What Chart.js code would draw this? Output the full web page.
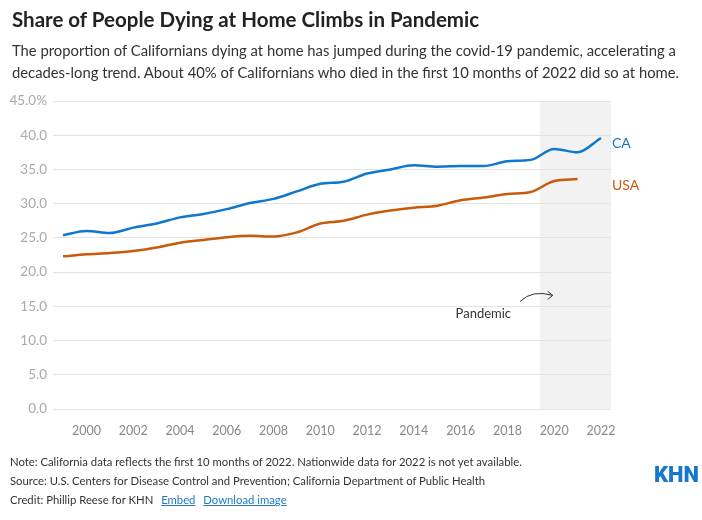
<!DOCTYPE html>
<html lang="en">
<head>
  <meta charset="UTF-8" />
  <title>Share of People Dying at Home Climbs in Pandemic</title>
  <script src="https://cdn.jsdelivr.net/npm/chart.js"></script>
  <style>
    html, body {
      margin: 0;
      padding: 0;
      background: #fff;
      font-family: Lato, "Open Sans", sans-serif;
      color: #333;
    }
    .wrap {
      position: relative;
      width: 702px;
      height: 520px;
      overflow: hidden;
    }
    #chart {
      position: absolute;
      left: 0;
      top: 0;
    }
    h2 {
      position: absolute;
      left: 12px;
      top: 7px;
      margin: 0;
      font-size: 20.5px;
      font-weight: bold;
      color: #222;
      white-space: nowrap;
    }
    .sub {
      position: absolute;
      left: 12px;
      top: 39px;
      margin: 0;
      font-size: 14.8px;
      line-height: 22px;
      color: #333;
      white-space: nowrap;
    }
    .foot {
      position: absolute;
      left: 10px;
      top: 452px;
      font-size: 11.3px;
      line-height: 19px;
      color: #333;
      white-space: nowrap;
    }
    .foot a {
      color: #1f78c8;
      text-decoration: underline;
      margin-left: 5px;
    }
    .logo {
      position: absolute;
      left: 654px;
      top: 462px;
      font-family: Roboto, sans-serif;
      font-weight: 900;
      font-size: 22px;
      color: #1677cc;
    }
  </style>
</head>
<body>
<div class="wrap">
  <canvas id="chart" width="702" height="520"></canvas>
  <h2>Share of People Dying at Home Climbs in Pandemic</h2>
  <p class="sub">The proportion of Californians dying at home has jumped during the covid-19 pandemic, accelerating a<br>decades-long trend. About 40% of Californians who died in the first 10 months of 2022 did so at home.</p>
  <div class="foot">
    Note: California data reflects the first 10 months of 2022. Nationwide data for 2022 is not yet available.<br>
    Source: U.S. Centers for Disease Control and Prevention; California Department of Public Health<br>
    Credit: Phillip Reese for KHN <a>Embed</a> <a>Download image</a>
  </div>
  <div class="logo">KHN</div>
</div>

<script>
  const years = [1999, 2000, 2001, 2002, 2003, 2004, 2005, 2006, 2007, 2008, 2009, 2010,
                 2011, 2012, 2013, 2014, 2015, 2016, 2017, 2018, 2019, 2020, 2021, 2022];
  const caValues = [25.4, 26.0, 25.7, 26.5, 27.1, 28.0, 28.5, 29.2, 30.1, 30.7, 31.8, 32.9,
                    33.2, 34.4, 35.0, 35.6, 35.4, 35.5, 35.5, 36.2, 36.4, 38.0, 37.5, 39.6];
  const usaValues = [22.3, 22.6, 22.8, 23.1, 23.6, 24.3, 24.7, 25.1, 25.3, 25.2, 25.8, 27.1,
                     27.5, 28.4, 29.0, 29.4, 29.7, 30.5, 30.9, 31.4, 31.7, 33.3, 33.6, null];
  const xTicks = [2000, 2002, 2004, 2006, 2008, 2010, 2012, 2014, 2016, 2018, 2020, 2022];
  const yTicks = [0, 5, 10, 15, 20, 25, 30, 35, 40, 45];
  const pandemicStart = 2019.4;

  const toPoints = vals => years.map((y, i) => ({ x: y, y: vals[i] }));

  // grey band behind everything, drawn before the grid
  const pandemicBand = {
    id: 'pandemicBand',
    beforeDraw(chart) {
      const { ctx, chartArea, scales } = chart;
      const x0 = scales.x.getPixelForValue(pandemicStart);
      ctx.save();
      ctx.fillStyle = '#f2f2f2';
      ctx.fillRect(x0, chartArea.top, chartArea.right - x0, chartArea.bottom - chartArea.top);
      ctx.restore();
    }
  };

  // series names at line ends + the "Pandemic" note with its arrow
  const annotations = {
    id: 'annotations',
    afterDatasetsDraw(chart) {
      const { ctx, chartArea, scales } = chart;
      const x = scales.x, y = scales.y;
      ctx.save();
      ctx.font = '14px Lato, sans-serif';
      ctx.textAlign = 'left';
      ctx.textBaseline = 'top';
      chart.data.datasets.forEach(ds => {
        const last = ds.data.filter(p => p.y !== null).pop();
        ctx.fillStyle = ds.borderColor;
        ctx.fillText(ds.label, chartArea.right + 1, y.getPixelForValue(last.y) - 1);
      });

      ctx.fillStyle = '#333';
      ctx.font = '13px Lato, sans-serif';
      ctx.textAlign = 'center';
      ctx.textBaseline = 'middle';
      ctx.fillText('Pandemic', x.getPixelForValue(2016.97), y.getPixelForValue(13.9));

      const sx = x.getPixelForValue(2018.54), sy = y.getPixelForValue(15.7);
      const ex = x.getPixelForValue(2019.94), ey = y.getPixelForValue(16.6);
      ctx.strokeStyle = '#333';
      ctx.lineWidth = 1;
      ctx.beginPath();
      ctx.moveTo(sx, sy);
      ctx.quadraticCurveTo(sx + 12, ey - 6, ex, ey);
      ctx.stroke();
      ctx.beginPath();
      ctx.moveTo(ex - 5, ey - 4);
      ctx.lineTo(ex, ey);
      ctx.lineTo(ex - 5, ey + 4);
      ctx.stroke();
      ctx.restore();
    }
  };

  new Chart(document.getElementById('chart'), {
    type: 'line',
    data: {
      datasets: [
        {
          label: 'CA',
          data: toPoints(caValues),
          borderColor: '#0f77cc',
          borderWidth: 2.5,
          pointRadius: 0,
          cubicInterpolationMode: 'monotone',
          fill: false
        },
        {
          label: 'USA',
          data: toPoints(usaValues),
          borderColor: '#c95a0c',
          borderWidth: 2.5,
          pointRadius: 0,
          cubicInterpolationMode: 'monotone',
          fill: false,
          spanGaps: false
        }
      ]
    },
    options: {
      responsive: false,
      animation: false,
      layout: { padding: { top: 101, left: 6, right: 91, bottom: 83 } },
      plugins: {
        legend: { display: false },
        tooltip: { enabled: false }
      },
      scales: {
        x: {
          type: 'linear',
          min: 1998.57,
          max: 2022.43,
          grid: { display: false },
          border: { display: false },
          afterBuildTicks: s => { s.ticks = xTicks.map(v => ({ value: v })); },
          afterFit: s => { s.height = 28; },
          ticks: {
            color: '#888',
            font: { family: 'Lato', size: 12.5 },
            padding: 6,
            maxRotation: 0,
            callback: v => String(v)
          }
        },
        y: {
          min: 0,
          max: 45,
          grid: { color: '#e3e3e3', lineWidth: 1, drawTicks: false },
          border: { display: false },
          afterBuildTicks: s => { s.ticks = yTicks.map(v => ({ value: v })); },
          afterFit: s => { s.width = 47; },
          ticks: {
            color: '#aaa',
            font: { family: 'Lato', size: 13.5 },
            padding: 6,
            callback: v => v === 45 ? v.toFixed(1) + '%' : v.toFixed(1)
          }
        }
      }
    },
    plugins: [pandemicBand, annotations]
  });
</script>
</body>
</html>
